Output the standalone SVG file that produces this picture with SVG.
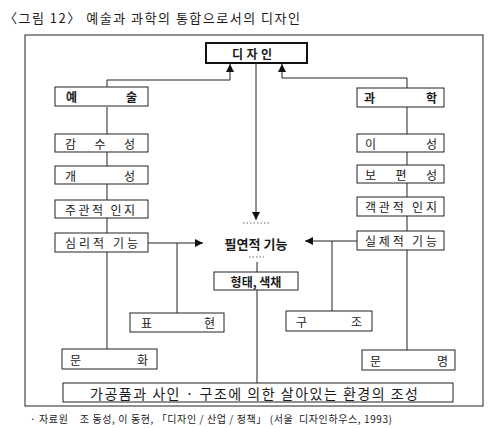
<svg xmlns="http://www.w3.org/2000/svg" width="488" height="428" viewBox="0 0 488 428">
<defs>
<marker id="ah" viewBox="0 0 10 10" refX="10" refY="5" markerWidth="10" markerHeight="8" markerUnits="userSpaceOnUse" orient="auto">
<path d="M0,0 L10,5 L0,10 z" fill="#111"/>
</marker>
</defs>
<style>
.t{font-family:"Noto Sans CJK KR","Noto Sans",sans-serif;fill:#1a1a1a;dominant-baseline:central}
.b{font-size:12px}
.box{fill:#fff;stroke:#222;stroke-width:1}
.ln{fill:none;stroke:#222;stroke-width:1}
.dot{fill:none;stroke:#666;stroke-width:1;stroke-dasharray:1.5 2}
</style>
<rect width="488" height="428" fill="#fff"/>
<text class="t" x="4" y="17" font-size="13" textLength="296" lengthAdjust="spacing">〈그림 12〉 예술과 과학의 통합으로서의 디자인</text>
<rect x="25" y="35" width="458" height="371" class="ln"/>

<g id="connectors">
<polyline class="ln" points="107,87 107,80 230,80 230,64" marker-end="url(#ah)"/>
<polyline class="ln" points="407,88 407,78 282,78 282,64" marker-end="url(#ah)"/>
<line class="ln" x1="256" y1="64" x2="256" y2="220" marker-end="url(#ah)"/>
<line class="ln" x1="107" y1="107" x2="107" y2="349"/>
<line class="ln" x1="407" y1="107" x2="407" y2="350"/>
<line class="ln" x1="148" y1="243" x2="203" y2="243" marker-end="url(#ah)"/>
<line class="ln" x1="177" y1="243" x2="177" y2="313"/>
<line class="ln" x1="357" y1="241" x2="305" y2="241" marker-end="url(#ah)"/>
<line class="ln" x1="332" y1="241" x2="332" y2="311"/>
<line class="dot" x1="243" y1="223" x2="270" y2="223"/>
<line class="dot" x1="249" y1="257" x2="264" y2="257"/>
<line class="ln" x1="257" y1="262" x2="257" y2="272"/>
<line class="ln" x1="257" y1="290" x2="257" y2="383"/>
</g>

<g id="design">
<rect x="206" y="43" width="101" height="20" fill="#fff" stroke="#111" stroke-width="2"/>
<text class="t b" x="232" y="53" font-weight="bold" textLength="40" lengthAdjust="spacing">디자인</text>
</g>

<g id="art"><rect class="box" x="55" y="87" width="93" height="19"/><text class="t b" x="66" y="96.5" font-weight="bold" textLength="71" lengthAdjust="spacing">예술</text></g>
<g id="sensibility"><rect class="box" x="55" y="134" width="93" height="18"/><text class="t b" x="65" y="143" textLength="70" lengthAdjust="spacing">감수성</text></g>
<g id="individuality"><rect class="box" x="55" y="166" width="93" height="18"/><text class="t b" x="65" y="175" textLength="70" lengthAdjust="spacing">개성</text></g>
<g id="subjective"><rect class="box" x="55" y="200" width="93" height="18"/><text class="t b" x="65" y="209" textLength="70" lengthAdjust="spacing">주관적 인지</text></g>
<g id="psychological"><rect class="box" x="55" y="233" width="93" height="19"/><text class="t b" x="65" y="242.5" textLength="73" lengthAdjust="spacing">심리적 기능</text></g>

<g id="science"><rect class="box" x="357" y="88" width="87" height="19"/><text class="t b" x="364" y="97.5" font-weight="bold" textLength="73" lengthAdjust="spacing">과학</text></g>
<g id="reason"><rect class="box" x="357" y="134" width="87" height="18"/><text class="t b" x="365" y="143" textLength="72" lengthAdjust="spacing">이성</text></g>
<g id="universality"><rect class="box" x="357" y="165" width="87" height="18"/><text class="t b" x="365" y="174" textLength="72" lengthAdjust="spacing">보편성</text></g>
<g id="objective"><rect class="box" x="357" y="197" width="87" height="19"/><text class="t b" x="365" y="206.5" textLength="72" lengthAdjust="spacing">객관적 인지</text></g>
<g id="practical"><rect class="box" x="357" y="231" width="87" height="19"/><text class="t b" x="365" y="240.5" textLength="72" lengthAdjust="spacing">실제적 기능</text></g>

<g id="necessary"><text class="t" x="256" y="243" font-size="13" font-weight="bold" text-anchor="middle">필연적 기능</text></g>
<g id="form"><rect class="box" x="214" y="272" width="84" height="18"/><text class="t b" x="256" y="281" text-anchor="middle" font-weight="bold">형태, 색채</text></g>

<g id="expression"><rect class="box" x="130" y="313" width="94" height="19"/><text class="t b" x="141" y="322.5" textLength="74" lengthAdjust="spacing">표현</text></g>
<g id="structure"><rect class="box" x="286" y="311" width="86" height="20"/><text class="t b" x="296" y="321" textLength="66" lengthAdjust="spacing">구조</text></g>
<g id="culture"><rect class="box" x="62" y="349" width="95" height="20"/><text class="t b" x="70" y="359" textLength="78" lengthAdjust="spacing">문화</text></g>
<g id="civilization"><rect class="box" x="362" y="350" width="93" height="20"/><text class="t b" x="370" y="360" textLength="78" lengthAdjust="spacing">문명</text></g>

<g id="environment"><rect class="box" x="63" y="383" width="390" height="19"/><text class="t" x="90" y="392.5" font-size="14" textLength="328" lengthAdjust="spacing">가공품과 사인 · 구조에 의한 살아있는 환경의 조성</text></g>

<text class="t" x="30" y="418" font-size="10" xml:space="preserve" textLength="362" lengthAdjust="spacing">· 자료원    조 동성, 이 동현, 「디자인 / 산업 / 정책」 (서울  디자인하우스, 1993)</text>
</svg>
